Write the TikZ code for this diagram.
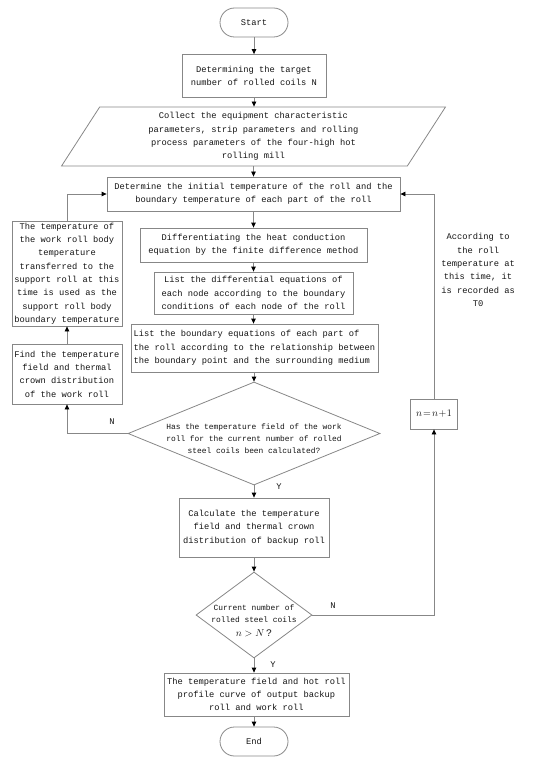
\documentclass[tikz,border=0pt]{standalone}
\usepackage{fontspec}
\setmainfont{Liberation Mono}
\usetikzlibrary{shapes.geometric,arrows.meta,positioning}
\definecolor{linegray}{RGB}{135,135,135}
\definecolor{textgray}{RGB}{20,20,20}
\tikzset{
  box/.style={draw=linegray, line width=0.8pt, align=center, inner sep=1pt,
    text=textgray, font=\fontsize{8.75}{13.3}\selectfont},
  terminal/.style={box, rounded corners=14.5pt, minimum width=68pt, minimum height=29pt},
  iobox/.style={box, trapezium, trapezium stretches=true,
    trapezium left angle=62.3, trapezium right angle=117.7},
  decision/.style={diamond, draw=linegray, line width=0.8pt, inner sep=0pt},
  dtext/.style={align=center, text=textgray, font=\fontsize{7.9}{12.3}\selectfont},
  flow/.style={draw=linegray, line width=0.8pt, -{Triangle[length=5pt,width=4.5pt,black]}},
  yn/.style={text=textgray, font=\fontsize{8.75}{13.3}\selectfont}
}
\begin{document}
\begin{tikzpicture}[x=1pt,y=-1pt]
  \useasboundingbox (0,0) rectangle (550,762);
  % main column
  \node[terminal] (start) at (254,22.5) {Start};
  \node[box, minimum width=144pt, minimum height=43pt] (target) at (254,76)
    {Determining the target\\number of rolled coils N};
  \node[iobox, minimum width=385pt, minimum height=59pt] (collect) at (253.5,136.5)
    {Collect the equipment characteristic\\parameters, strip parameters and rolling\\process parameters of the four-high hot\\rolling mill};
  \node[box, minimum width=293pt, minimum height=34pt] (init) at (253.5,194)
    {Determine the initial temperature of the roll and the\\boundary temperature of each part of the roll};
  \node[box, minimum width=227pt, minimum height=34pt] (diff) at (253.5,245)
    {Differentiating the heat conduction\\equation by the finite difference method};
  \node[box, minimum width=199pt, minimum height=42pt] (listdiff) at (253.5,293)
    {List the differential equations of\\each node according to the boundary\\conditions of each node of the roll};
  \node[box, align=left, minimum width=247pt, minimum height=48pt] (listbound) at (254.5,348)
    {List the boundary equations of each part of\\the roll according to the relationship between\\the boundary point and the surrounding medium};
  \node[decision, minimum width=252pt, minimum height=103pt,
    label={[dtext, yshift=-5pt]center:{Has the temperature field of the work\\roll for the current number of rolled\\steel coils been calculated?}}]
    (workdone) at (254,433.5) {};
  \node[box, minimum width=150pt, minimum height=59pt] (calc) at (254,527.5)
    {Calculate the temperature\\field and thermal crown\\distribution of backup roll};
  \node[decision, minimum width=116pt, minimum height=86pt,
    label={[dtext, yshift=-6pt]center:{Current number of\\rolled steel coils\\[2pt]{\fontsize{10}{12}\selectfont$n>N\,$?}}}]
    (coilsdone) at (254,615) {};
  \node[box, minimum width=185pt, minimum height=43pt] (output) at (256.5,694.5)
    {The temperature field and hot roll\\profile curve of output backup\\roll and work roll};
  \node[terminal] (end) at (254,741.5) {End};
  % left loop
  \node[box, minimum width=110pt, minimum height=105pt, inner sep=0pt] (transfer) at (67,273.5)
    {The temperature of\\the work roll body\\temperature\\transferred to the\\support roll at this\\time is used as the\\support roll body\\boundary temperature};
  \node[box, minimum width=110pt, minimum height=60pt] (find) at (67,374)
    {Find the temperature\\field and thermal\\crown distribution\\of the work roll};
  % right loop
  \node[box, minimum width=47pt, minimum height=30pt, font=\fontsize{10}{12}\selectfont] (inc) at (434,414) {$n\!=\!n\!+\!1$};
  \node[yn, align=center] (note) at (478,270)
    {According to\\the roll\\temperature at\\this time, it\\is recorded as\\T0};
  % connectors
  \draw[flow] (start) -- (target);
  \draw[flow] (target.south) -- (target.south |- collect.north);
  \draw[flow] (collect.south -| init.north) -- (init.north);
  \draw[flow] (init) -- (diff);
  \draw[flow] (diff) -- (listdiff);
  \draw[flow] (listdiff) -- (listdiff |- listbound.north);
  \draw[flow] (workdone.north |- listbound.south) -- (workdone.north);
  \draw[flow] (workdone.west) -| (find.south);
  \draw[flow] (find) -- (transfer);
  \draw[flow] (transfer.north) |- (init.west);
  \draw[flow] (workdone) -- (calc);
  \draw[flow] (calc) -- (coilsdone);
  \draw[flow] (coilsdone.east) -| (inc.south);
  \draw[flow] (inc.north) |- (init.east);
  \draw[flow] (coilsdone.south) -- (coilsdone.south |- output.north);
  \draw[flow] (end.north |- output.south) -- (end.north);
  % branch labels
  \node[yn] (n1) at (112,422) {N};
  \node[yn] (y1) at (279,487) {Y};
  \node[yn] (n2) at (333,606) {N};
  \node[yn] (y2) at (273,665) {Y};
\end{tikzpicture}
\end{document}
